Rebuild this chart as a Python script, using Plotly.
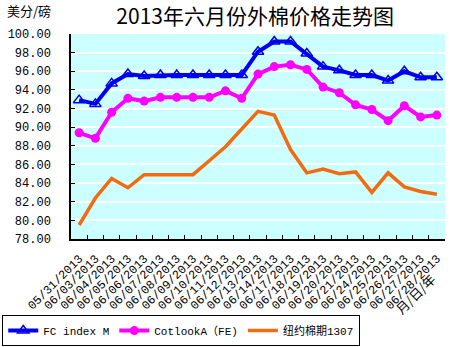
import plotly.graph_objects as go

dates = ["05/31/2013", "06/03/2013", "06/04/2013", "06/05/2013", "06/06/2013",
         "06/07/2013", "06/08/2013", "06/09/2013", "06/10/2013", "06/11/2013",
         "06/12/2013", "06/13/2013", "06/14/2013", "06/17/2013", "06/18/2013",
         "06/19/2013", "06/20/2013", "06/21/2013", "06/24/2013", "06/25/2013",
         "06/26/2013", "06/27/2013", "06/28/2013"]

fc_index_m = [92.9, 92.5, 94.7, 95.7, 95.5, 95.6, 95.6, 95.6, 95.6, 95.6, 95.6,
              98.1, 99.2, 99.2, 97.9, 96.5, 96.1, 95.6, 95.6, 95.0, 96.0, 95.35, 95.35]

cotlook_a = [89.4, 88.8, 91.6, 93.1, 92.8, 93.2, 93.2, 93.2, 93.2, 93.9, 93.1,
             95.7, 96.5, 96.7, 96.2, 94.3, 93.7, 92.4, 91.9, 90.7, 92.3, 91.1, 91.3]

ny_futures = [79.5, 82.4, 84.5, 83.5, 84.9, 84.9, 84.9, 84.9, 86.4, 87.9, 89.8,
              91.7, 91.3, 87.6, 85.1, 85.5, 85.0, 85.2, 83.0, 85.1, 83.6, 83.1, 82.8]

y_ticks = [78, 80, 82, 84, 86, 88, 90, 92, 94, 96, 98, 100]

title_text = "2013年六月份外棉价格走势图"
unit_text = "美分/磅"
x_title = "月/日/年"

MONO = "Liberation Mono, DejaVu Sans Mono, monospace"
CJK = "Noto Sans CJK SC, sans-serif"

fig = go.Figure()
fig.add_trace(go.Scatter(
    x=dates, y=fc_index_m, name="FC index M", mode="lines+markers",
    line=dict(color="#0000F0", width=4),
    marker=dict(symbol="triangle-up-open", size=10, color="#0000F0",
                line=dict(width=1.5, color="#0000F0")),
))
fig.add_trace(go.Scatter(
    x=dates, y=cotlook_a, name="CotlookA（FE)", mode="lines+markers",
    line=dict(color="#FF00FF", width=4),
    marker=dict(symbol="circle", size=9, color="#FF00FF"),
))
fig.add_trace(go.Scatter(
    x=dates, y=ny_futures, name="纽约棉期1307", mode="lines",
    line=dict(color="#F26B11", width=3.5),
))

fig.update_layout(
    width=450, height=347,
    margin=dict(l=71, r=5, t=34, b=108, autoexpand=False),
    paper_bgcolor="white",
    plot_bgcolor="#CCFFFF",
    font=dict(family=MONO, size=12, color="black"),
    title=dict(text=title_text, xref="container", yref="container",
               x=0.567, y=0.951, xanchor="center", yanchor="middle",
               font=dict(family=CJK, size=21, color="black")),
    showlegend=True,
    legend=dict(orientation="h", xref="container", yref="container",
                x=0.005, y=0.092, xanchor="left", yanchor="top",
                bordercolor="black", borderwidth=1, bgcolor="white",
                font=dict(family=MONO + ", " + CJK, size=11),
                itemwidth=30, tracegroupgap=0),
    xaxis=dict(type="category", categoryorder="array", categoryarray=dates,
               tickangle=-45, tickfont=dict(family=MONO, size=12),
               ticklabelstandoff=6,
               showline=True, linecolor="black", linewidth=1.5,
               ticks="inside", ticklen=4, tickcolor="black",
               tickson="boundaries", showgrid=False, automargin=False,
               range=[-0.5, len(dates) - 0.5]),
    yaxis=dict(range=[78, 100], tickvals=y_ticks, tickformat=".2f",
               tickfont=dict(family=MONO, size=12),
               showline=True, linecolor="black", linewidth=1.5,
               ticks="inside", ticklen=4, tickcolor="black",
               ticklabelstandoff=16,
               showgrid=True, gridcolor="white", gridwidth=2,
               zeroline=False, automargin=False),
    annotations=[
        dict(text=unit_text, xref="paper", yref="paper", x=-0.177, y=1.117,
             xanchor="left", yanchor="middle", showarrow=False,
             font=dict(family=CJK, size=13, color="black")),
        dict(text=x_title, xref="paper", yref="paper", x=0.922, y=-0.268,
             xanchor="center", yanchor="middle", showarrow=False, textangle=-45,
             font=dict(family=CJK, size=13, color="black")),
    ],
)

fig.write_html("out.html")
